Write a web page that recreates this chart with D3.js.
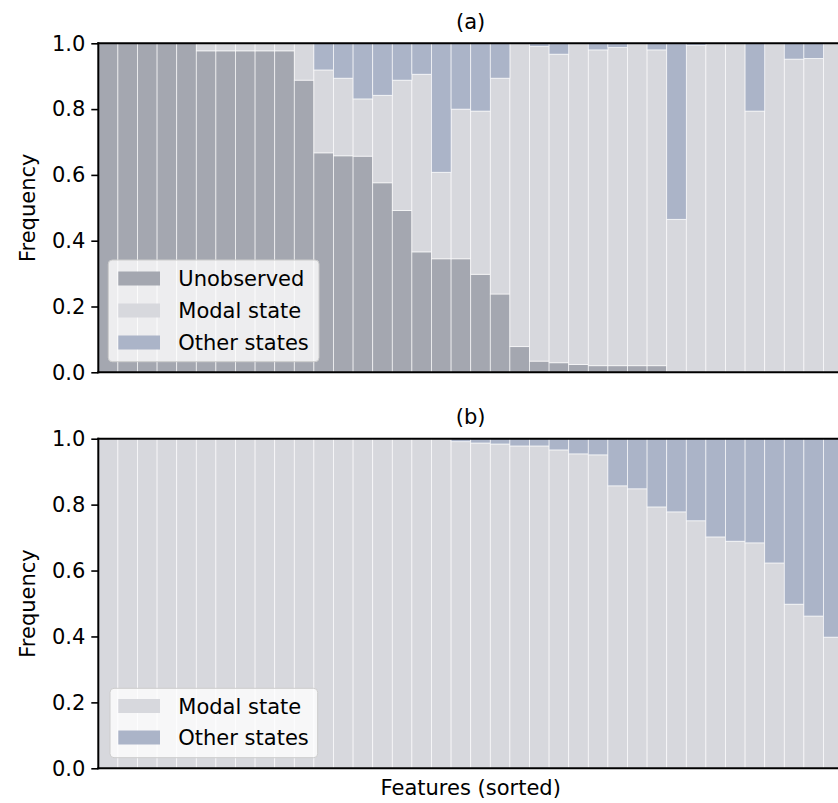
<!DOCTYPE html>
<html>
<head>
<meta charset="utf-8">
<script src="https://cdn.jsdelivr.net/npm/d3@7"></script>
<style>
  html, body { margin: 0; padding: 0; background: #fff; }
  svg { display: block; }
  text { font-family: "DejaVu Sans", sans-serif; fill: #000; }
</style>
</head>
<body>
<svg id="chart" width="838" height="803"></svg>
<script>
// Features, in sorted order (38 of them)
const features = d3.range(1, 39).map(i => "F" + i);

// Panel (a): share of each feature that is unobserved / in its modal state / in other states
const unobservedA = [1, 1, 1, 1, 1, 0.977, 0.977, 0.977, 0.977, 0.977,
  0.888, 0.667, 0.658, 0.657, 0.576, 0.492, 0.366, 0.345, 0.345, 0.298,
  0.238, 0.078, 0.034, 0.029, 0.024, 0.020, 0.020, 0.020, 0.020, 0,
  0, 0, 0, 0, 0, 0, 0, 0];
const modalA = [0, 0, 0, 0, 0, 0.023, 0.023, 0.023, 0.023, 0.023,
  0.112, 0.252, 0.236, 0.174, 0.266, 0.396, 0.540, 0.263, 0.455, 0.496,
  0.656, 0.922, 0.956, 0.938, 0.976, 0.960, 0.967, 0.980, 0.960, 0.465,
  0.993, 1, 1, 0.794, 1, 0.952, 0.954, 1];
const otherA = [0, 0, 0, 0, 0, 0, 0, 0, 0, 0,
  0, 0.081, 0.106, 0.169, 0.158, 0.112, 0.094, 0.392, 0.200, 0.206,
  0.106, 0, 0.010, 0.033, 0, 0.020, 0.013, 0, 0.020, 0.535,
  0.007, 0, 0, 0.206, 0, 0.048, 0.046, 0];

// Panel (b): observed features only
const modalB = [1, 1, 1, 1, 1, 1, 1, 1, 1, 1,
  1, 1, 1, 1, 1, 1, 1, 1, 0.991, 0.987,
  0.984, 0.978, 0.978, 0.966, 0.954, 0.951, 0.857, 0.848, 0.793, 0.778,
  0.751, 0.702, 0.689, 0.684, 0.623, 0.498, 0.462, 0.398];
const otherB = [0, 0, 0, 0, 0, 0, 0, 0, 0, 0,
  0, 0, 0, 0, 0, 0, 0, 0, 0.009, 0.013,
  0.016, 0.022, 0.022, 0.034, 0.046, 0.049, 0.143, 0.152, 0.207, 0.222,
  0.249, 0.298, 0.311, 0.316, 0.377, 0.502, 0.538, 0.602];

const yTicks = [0, 0.2, 0.4, 0.6, 0.8, 1.0];

const seriesColors = {
  "Unobserved": "#a4a7b0",
  "Modal state": "#d7d8dd",
  "Other states": "#abb4c8"
};

const svg = d3.select("#chart");
const fontSize = 21;

const left = 98.3;
const right = left + 38 * 19.6;   // the plot runs past the right edge of the page

const x = d3.scaleBand().domain(features).range([left, right]).paddingInner(0).paddingOuter(0);

function drawPanel(cfg) {
  const { top, bottom, title, keys, values, legendBox } = cfg;
  const y = d3.scaleLinear().domain([0, 1]).range([bottom, top]);
  const g = svg.append("g");

  const rows = features.map((f, i) => {
    const r = { feature: f };
    keys.forEach(k => { r[k] = values[k][i]; });
    return r;
  });
  const stacked = d3.stack().keys(keys)(rows);

  g.selectAll("g.layer").data(stacked).join("g")
    .attr("class", "layer")
    .attr("fill", d => seriesColors[d.key])
    .selectAll("rect").data(d => d).join("rect")
    .attr("x", d => x(d.data.feature))
    .attr("width", x.bandwidth())
    .attr("y", d => y(d[1]))
    .attr("height", d => Math.max(0, y(d[0]) - y(d[1])))
    .attr("stroke", "#ffffff")
    .attr("stroke-opacity", 0.75)
    .attr("stroke-width", 0.8);

  // y axis
  const yAxis = d3.axisLeft(y).tickValues(yTicks).tickFormat(d3.format(".1f"))
    .tickSize(7).tickPadding(6);
  const ya = g.append("g").attr("transform", `translate(${left},0)`).call(yAxis);
  ya.select(".domain").remove();
  ya.selectAll(".tick line").attr("stroke", "#000").attr("stroke-width", 1.6);
  ya.selectAll(".tick text").attr("font-size", fontSize).attr("font-family", "DejaVu Sans").attr("fill", "#000");

  // spines
  g.append("line").attr("x1", left).attr("x2", left).attr("y1", top - 1).attr("y2", bottom + 1)
    .attr("stroke", "#000").attr("stroke-width", 2);
  g.append("line").attr("x1", left - 1).attr("x2", right).attr("y1", top).attr("y2", top)
    .attr("stroke", "#000").attr("stroke-width", 2);
  g.append("line").attr("x1", left - 1).attr("x2", right).attr("y1", bottom).attr("y2", bottom)
    .attr("stroke", "#000").attr("stroke-width", 2);

  // panel title
  g.append("text").attr("x", (left + right) / 2).attr("y", top - 14.5)
    .attr("text-anchor", "middle").attr("font-size", fontSize).text(title);

  // y label
  g.append("text")
    .attr("transform", `translate(35,${(top + bottom) / 2}) rotate(-90)`)
    .attr("text-anchor", "middle").attr("font-size", fontSize).text("Frequency");

  // legend
  const lg = g.append("g");
  lg.append("rect")
    .attr("x", legendBox.x).attr("y", legendBox.y)
    .attr("width", legendBox.w).attr("height", legendBox.h)
    .attr("rx", 4).attr("ry", 4)
    .attr("fill", "#ffffff").attr("fill-opacity", 0.8)
    .attr("stroke", "#cccccc").attr("stroke-width", 1);
  keys.forEach((k, i) => {
    const cy = legendBox.y + legendBox.first + i * legendBox.step;
    lg.append("rect").attr("x", 118.3).attr("y", cy - 7).attr("width", 41.7).attr("height", 14)
      .attr("fill", seriesColors[k]);
    lg.append("text").attr("x", 178.3).attr("y", cy).attr("dy", "0.36em")
      .attr("font-size", fontSize).text(k);
  });
}

drawPanel({
  top: 43.3, bottom: 372.3, title: "(a)",
  keys: ["Unobserved", "Modal state", "Other states"],
  values: { "Unobserved": unobservedA, "Modal state": modalA, "Other states": otherA },
  legendBox: { x: 108.3, y: 260, w: 210.7, h: 101.7, first: 18.5, step: 32 }
});

drawPanel({
  top: 438.7, bottom: 768.3, title: "(b)",
  keys: ["Modal state", "Other states"],
  values: { "Modal state": modalB, "Other states": otherB },
  legendBox: { x: 110, y: 688.3, w: 207.7, h: 69.4, first: 17.7, step: 31.5 }
});

// shared x label
svg.append("text").attr("x", (left + right) / 2).attr("y", 795)
  .attr("text-anchor", "middle").attr("font-size", fontSize).text("Features (sorted)");
</script>
</body>
</html>
